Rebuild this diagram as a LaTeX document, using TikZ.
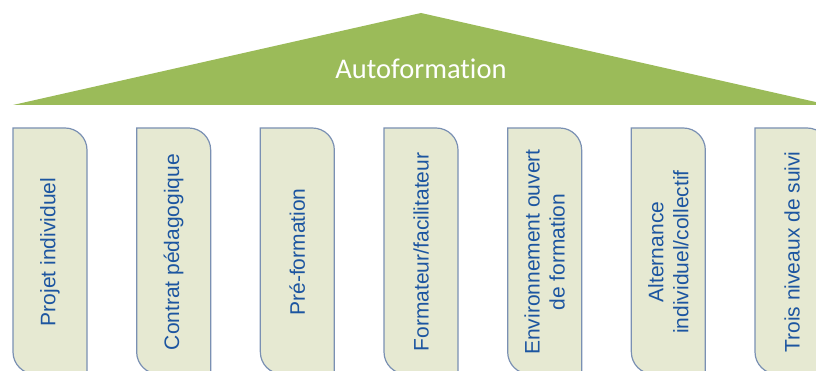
\documentclass[tikz,border=0pt]{standalone}
\usepackage{fontspec}
\setmainfont{Liberation Sans}
\newfontfamily\titlefont[Ligatures=NoCommon]{Carlito}
\definecolor{roofgreen}{HTML}{9BBB59}
\definecolor{pillarfill}{HTML}{E6E9D2}
\definecolor{pillarline}{HTML}{7A90B3}
\definecolor{pillartext}{HTML}{1C55A0}
\tikzset{
  pillarshape/.style={draw=pillarline, fill=pillarfill, line width=1.2pt},
  pillarlabel/.style={rotate=90, align=center, text=pillartext, font=\fontsize{21}{25}\selectfont, inner sep=0pt},
  rooflabel/.style={text=white, font=\titlefont\fontsize{28.5}{30}\selectfont, inner sep=0pt}
}
\begin{document}
\begin{tikzpicture}[x=1pt,y=1pt]
\useasboundingbox (0,0) rectangle (816,371);
\clip (0,0) rectangle (816,371);
% roof
\fill[roofgreen] (13,266) -- (421,358) -- (829,266) -- cycle;
\node[rooflabel] (roof) at (421,302) {Autoformation};
% pillars
\foreach \i/\x in {1/13,2/136.67,3/260.33,4/384,5/507.67,6/631.33,7/755}{
  \draw[pillarshape] (\x,243) -- ({\x+52},243) arc[start angle=90,end angle=0,radius=22]
    -- ({\x+74},-3) -- ({\x+22},-3) arc[start angle=270,end angle=180,radius=22] -- cycle;
}
\node[pillarlabel] (p1) at (50,119) {Projet individuel};
\node[pillarlabel] (p2) at (173.67,119) {Contrat pédagogique};
\node[pillarlabel] (p3) at (297.33,119) {Pré-formation};
\node[pillarlabel] (p4) at (421,119) {Formateur/facilitateur};
\node[pillarlabel] (p5) at (544.67,119) {Environnement ouvert\\de formation};
\node[pillarlabel] (p6) at (668.33,119) {Alternance\\individuel/collectif};
\node[pillarlabel] (p7) at (792,119) {Trois niveaux de suivi};
\end{tikzpicture}
\end{document}
